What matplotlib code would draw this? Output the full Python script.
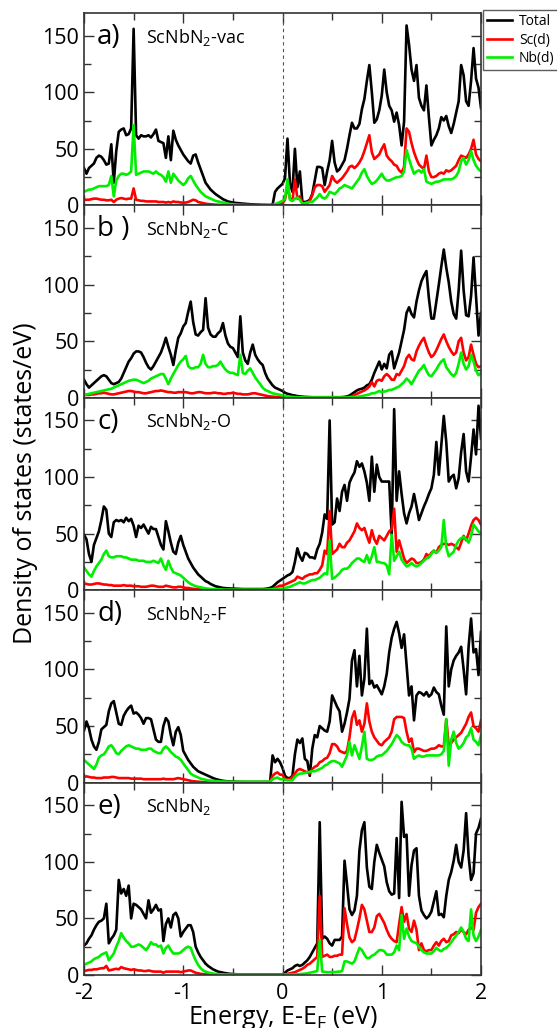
import numpy as np
import matplotlib.pyplot as plt
from matplotlib.ticker import MultipleLocator

plt.rcParams['font.family'] = ['Open Sans', 'DejaVu Sans']
plt.rcParams['mathtext.fontset'] = 'custom'
plt.rcParams['mathtext.rm'] = 'Open Sans'
plt.rcParams['axes.unicode_minus'] = False

# energy grid (eV), 0.025 eV steps from -2 to 2
energy = np.linspace(-2, 2, 161)

# a) ScNbN2-vac
a_tot = [33, 28, 33, 35, 37, 42, 44, 43, 40, 36,
         37, 54, 20, 48, 65, 67, 68, 62, 63, 68,
         156, 62, 59, 62, 61, 61, 62, 60, 63, 67,
         57, 56, 55, 42, 61, 40, 66, 58, 53, 49,
         45, 42, 39, 37, 44, 45, 38, 32, 26, 20,
         17, 14, 12, 10, 8.5, 7, 5.5, 4.5, 3.5, 3,
         2.5, 2.2, 2, 1.8, 1.6, 1.4, 1.2, 1, 0.9, 0.8,
         0.7, 0.6, 0.5, 0.5, 0.4, 0.4, 0.5, 12, 15, 17,
         19, 24, 59, 20, 12, 50, 16, 30, 3, 3,
         3.5, 5, 10, 22, 34, 34, 33, 18, 30, 40,
         57, 38, 30, 32, 36, 40, 50, 62, 73, 68,
         68, 72, 85, 94, 110, 124, 100, 73, 76, 84,
         97, 120, 100, 88, 84, 74, 82, 71, 53, 74,
         159, 142, 120, 110, 124, 95, 88, 84, 106, 78,
         53, 58, 62, 68, 78, 75, 79, 70, 64, 72,
         82, 92, 124, 115, 92, 88, 110, 139, 112, 104,
         86]
a_sc = [5, 5, 5, 5.5, 6, 6, 5.5, 5, 5, 4.5,
        4.5, 5, 3, 5, 6, 6.5, 6, 5.5, 6, 6,
        15, 5, 4.5, 4, 4, 3.5, 3.5, 3.5, 3.5, 3.5,
        3, 3, 3, 2.5, 3, 2.5, 3.5, 3, 3, 2.5,
        2.5, 2.5, 3, 4, 5, 4.5, 3, 2.5, 2, 1.5,
        1.2, 1, 0.8, 0.6, 0.5, 0.4, 0.3, 0.3, 0.2, 0.2,
        0.2, 0.2, 0.1, 0.1, 0.1, 0.1, 0.1, 0.1, 0.1, 0.1,
        0.1, 0.1, 0.1, 0.1, 0.1, 0.1, 0.2, 0.5, 1, 1.5,
        2, 5, 18, 6, 4, 23, 6, 8, 2, 1.5,
        2, 4, 9, 16, 18, 18, 17, 12, 15, 18,
        26, 22, 20, 22, 24, 27, 30, 34, 35, 33,
        35, 38, 42, 48, 55, 62, 47, 41, 43, 45,
        50, 54, 44, 41, 39, 36, 35, 31, 29, 34,
        68, 65, 55, 47, 41, 36, 34, 32, 44, 30,
        25, 25, 26, 28, 29, 28, 31, 30, 31, 33,
        35, 40, 44, 43, 42, 45, 50, 58, 45, 41,
        39]
a_nb = [12, 13, 14, 14, 15, 16, 17, 17, 17, 17,
        18, 26, 8, 22, 26, 28, 28, 27, 28, 30,
        71, 27, 28, 29, 30, 30, 30, 29, 28, 30,
        28, 27, 25, 21, 30, 20, 28, 25, 22, 20,
        18, 20, 24, 26, 22, 18, 15, 12, 10, 8,
        7, 6, 5, 4, 3.5, 3, 2.5, 2, 1.5, 1.2,
        1, 0.8, 0.7, 0.6, 0.5, 0.4, 0.4, 0.3, 0.3, 0.3,
        0.3, 0.3, 0.3, 0.3, 0.3, 0.3, 0.4, 1, 2, 3,
        4, 6, 23, 5, 4, 6, 7, 5, 1.5, 2,
        2.5, 3, 3, 5, 7, 10, 7, 6, 8, 12,
        11, 10, 12, 15, 16, 18, 17, 16, 15, 18,
        21, 24, 29, 32, 26, 22, 19, 20, 22, 25,
        28, 24, 22, 22, 23, 24, 25, 25, 26, 30,
        49, 41, 34, 28, 30, 31, 29, 32, 21, 20,
        19, 20, 21, 21, 22, 23, 23, 23, 23, 24,
        26, 30, 39, 42, 36, 40, 48, 40, 35, 32,
        30]

# b) ScNbN2-C
b_tot = [16, 12, 9, 11, 13, 15, 17, 19, 20, 19,
         16, 13, 12, 13, 14, 17, 22, 27, 32, 35,
         39, 41, 41, 40, 36, 31, 27, 25, 28, 32,
         36, 40, 46, 53, 45, 38, 29, 42, 53, 57,
         63, 66, 76, 85, 67, 56, 55, 58, 60, 88,
         62, 56, 54, 54, 57, 59, 66, 55, 48, 45,
         44, 40, 36, 72, 40, 33, 30, 40, 47, 38,
         34, 31, 29, 22, 17, 14, 11, 9, 8, 7,
         6, 4.5, 3.5, 3, 2.3, 2, 1.5, 1.2, 1, 0.8,
         0.7, 0.6, 0.5, 0.5, 0.5, 0.5, 0.5, 0.5, 0.5, 0.5,
         0.5, 0.5, 0.5, 0.5, 0.6, 0.8, 1.2, 2, 3.5, 5,
         6.5, 7.5, 8, 9, 11, 12, 16, 22, 27, 32,
         25, 30, 26, 38, 41, 26, 33, 40, 50, 60,
         75, 80, 74, 71, 85, 95, 103, 108, 112, 88,
         70, 70, 85, 100, 116, 131, 115, 102, 85, 74,
         70, 95, 130, 95, 73, 72, 90, 124, 90, 55,
         75]
b_sc = [3, 2.5, 2.5, 3, 3, 3.5, 4, 4, 4.5, 4,
        3.5, 3, 3, 3.5, 4, 4.5, 5, 5.5, 6, 6,
        5.5, 5, 5, 4.5, 4, 4, 4.5, 5, 5.5, 6,
        6, 6.5, 6, 5.5, 5, 5, 4.5, 4.5, 5, 5,
        5, 5, 4.5, 4, 4, 4.5, 5, 5, 4.5, 4,
        4, 4, 4.5, 4.5, 4, 4, 3.5, 3.5, 4, 4,
        4.5, 4, 3.5, 3.5, 3, 3, 3, 3.5, 4, 4,
        3.5, 3, 2.5, 2, 1.5, 1.2, 1, 0.8, 0.6, 0.5,
        0.4, 0.3, 0.3, 0.2, 0.2, 0.2, 0.2, 0.2, 0.2, 0.2,
        0.2, 0.2, 0.2, 0.2, 0.2, 0.2, 0.2, 0.2, 0.2, 0.2,
        0.2, 0.2, 0.2, 0.2, 0.2, 0.3, 0.4, 0.8, 1.5, 2.5,
        3.5, 4.5, 5.5, 6.5, 8, 10, 14, 10, 15, 16,
        15, 19, 21, 19, 16, 16, 21, 20, 24, 28,
        35, 38, 34, 33, 41, 46, 50, 53, 46, 40,
        36, 38, 42, 47, 52, 56, 50, 45, 41, 38,
        40, 50, 53, 40, 33, 36, 47, 38, 30, 27,
        28]
b_nb = [3, 3, 3.5, 4, 4.5, 5, 5.5, 6, 6.5, 7,
        7.5, 8, 9, 10, 11, 12, 13, 14, 15, 15.5,
        16, 16, 15, 14, 13, 14, 15, 17, 18, 19,
        20, 21, 21, 17, 12, 17, 21, 25, 29, 32,
        34, 37, 28, 26, 26, 27, 27, 30, 38, 30,
        27, 27, 28, 28, 29, 32, 28, 25, 23, 22,
        22, 21, 20, 38, 22, 21, 24, 26, 22, 18,
        15, 12, 9, 7, 6, 5, 4, 3.5, 3, 2.5,
        2, 1.6, 1.3, 1, 0.8, 0.6, 0.5, 0.4, 0.4, 0.3,
        0.3, 0.3, 0.3, 0.3, 0.3, 0.3, 0.3, 0.3, 0.3, 0.3,
        0.3, 0.3, 0.3, 0.3, 0.3, 0.3, 0.3, 0.4, 0.5, 0.7,
        1, 1.2, 1.5, 2, 2.5, 3, 4, 4, 5, 6,
        5, 5.5, 6, 7, 7, 8, 9, 10, 12, 14,
        17, 15, 12, 16, 20, 24, 26, 29, 24, 20,
        19, 22, 25, 29, 32, 34, 27, 24, 21, 19,
        22, 30, 40, 30, 25, 28, 38, 32, 24, 20,
        22]

# c) ScNbN2-O
c_tot = [49, 45, 32, 25, 40, 46, 52, 62, 74, 71,
         50, 47, 60, 62, 61, 62, 60, 64, 61, 63,
         57, 47, 57, 55, 58, 54, 50, 56, 54, 54,
         47, 40, 36, 61, 52, 42, 34, 32, 42, 48,
         40, 34, 28, 24, 20, 17, 14, 12, 10, 8,
         7, 5.5, 4.5, 3.5, 3, 2.5, 2, 1.8, 1.6, 1.5,
         1.4, 1.3, 1.2, 1.1, 1, 1, 1, 1, 1, 1,
         1, 1, 1, 1.2, 1.5, 2, 3, 5, 7, 8.5,
         10, 11.5, 13, 14, 16, 25, 37, 30, 26, 33,
         32, 29, 29, 28, 36, 41, 51, 67, 63, 150,
         58, 60, 81, 70, 87, 93, 79, 95, 100, 104,
         114, 109, 112, 105, 95, 79, 118, 87, 111, 100,
         96, 96, 96, 96, 49, 160, 79, 105, 85, 68,
         59, 68, 74, 85, 74, 62, 68, 74, 79, 85,
         90, 102, 131, 102, 128, 154, 131, 96, 100, 102,
         90, 99, 122, 138, 105, 96, 118, 142, 120, 163,
         134]
c_sc = [6, 5.5, 5, 5, 5.5, 6, 6, 5.5, 5, 5,
        4.5, 4.5, 4, 4, 4, 4, 4.5, 4, 4, 4,
        3.5, 3.5, 3.5, 3, 3, 3, 3.5, 4, 4, 3.5,
        3, 3, 3, 4, 3.5, 3, 2.5, 2.5, 3, 3,
        2.5, 2, 2, 1.5, 1.2, 1, 0.8, 0.6, 0.5, 0.4,
        0.3, 0.3, 0.2, 0.2, 0.2, 0.2, 0.2, 0.2, 0.2, 0.2,
        0.2, 0.2, 0.2, 0.2, 0.2, 0.2, 0.2, 0.2, 0.2, 0.2,
        0.2, 0.2, 0.2, 0.3, 0.5, 0.8, 1.2, 2, 3, 4,
        4, 5, 6, 7, 8, 9, 12, 11, 10, 12,
        13, 14, 14, 15, 15, 18, 22, 35, 32, 70,
        32, 34, 36, 41, 38, 38, 42, 44, 48, 52,
        59, 55, 53, 55, 48, 42, 53, 45, 41, 48,
        46, 44, 48, 52, 54, 72, 34, 44, 36, 28,
        24, 26, 28, 27, 24, 24, 25, 27, 32, 30,
        33, 35, 33, 38, 40, 41, 41, 40, 41, 40,
        38, 36, 42, 48, 44, 50, 57, 62, 64, 62,
        58]
c_nb = [20, 17, 14, 12, 17, 21, 24, 27, 32, 35,
        30, 29, 29, 30, 30, 30, 29, 29, 28, 27,
        27, 27, 26, 26, 26, 25, 25, 25, 26, 25,
        24, 28, 22, 18, 26, 20, 16, 15, 14, 13,
        11, 9, 7, 5.5, 4.5, 3.5, 3, 2.5, 2, 1.6,
        1.3, 1.1, 1, 0.9, 0.8, 0.7, 0.6, 0.5, 0.5, 0.5,
        0.5, 0.5, 0.5, 0.5, 0.5, 0.5, 0.5, 0.5, 0.5, 0.5,
        0.5, 0.5, 0.5, 0.5, 0.6, 0.7, 0.8, 1, 1.2, 1.5,
        1.5, 2, 2.5, 3, 4, 5, 6, 7, 6, 6,
        7, 8, 9, 9, 10, 11, 13, 15, 14, 44,
        10, 11, 13, 15, 18, 19, 19, 21, 24, 26,
        28, 28, 26, 25, 31, 24, 30, 38, 25, 25,
        24, 24, 22, 14, 49, 26, 30, 34, 27, 24,
        21, 22, 24, 22, 21, 22, 24, 26, 28, 29,
        32, 35, 33, 35, 38, 62, 38, 30, 32, 34,
        40, 44, 46, 47, 45, 42, 48, 58, 55, 52,
        50]

# d) ScNbN2-F
d_tot = [46, 54, 48, 38, 32, 29, 36, 47, 49, 51,
         63, 70, 72, 62, 52, 51, 59, 63, 66, 68,
         61, 62, 60, 57, 52, 57, 57, 56, 47, 38,
         36, 36, 50, 57, 54, 42, 33, 45, 49, 42,
         28, 24, 20, 17, 14, 12, 10, 9, 8, 7,
         6, 5, 4, 3.2, 2.6, 2, 1.6, 1.3, 1.1, 1,
         0.9, 0.8, 0.7, 0.6, 0.6, 0.5, 0.5, 0.5, 0.5, 0.5,
         0.5, 0.5, 0.5, 0.5, 0.5, 0.6, 24, 18, 21, 18,
         13, 6, 4, 4, 6, 25, 38, 35, 39, 21,
         19, 6, 30, 42, 40, 50, 48, 46, 45, 54,
         77, 72, 67, 63, 45, 52, 62, 74, 108, 117,
         85, 112, 77, 92, 136, 87, 90, 84, 86, 82,
         78, 85, 96, 115, 128, 136, 142, 132, 119, 131,
         104, 77, 85, 55, 77, 80, 79, 77, 80, 76,
         78, 84, 80, 78, 68, 60, 138, 85, 100, 108,
         112, 115, 120, 100, 78, 120, 145, 115, 118, 95,
         133]
d_sc = [5, 5.5, 5, 4.5, 4.5, 4, 4, 4, 4.5, 4.5,
        4.5, 5, 5, 4.5, 4, 4, 4, 4, 4, 3.5,
        3.5, 3.5, 3.5, 3.5, 3, 3, 3, 3, 3, 3,
        3, 3, 3.5, 3, 3, 3, 3, 3.5, 4, 3.5,
        3, 2.5, 2, 1.6, 1.2, 1, 0.8, 0.6, 0.5, 0.4,
        0.4, 0.3, 0.3, 0.3, 0.3, 0.3, 0.3, 0.3, 0.3, 0.3,
        0.3, 0.3, 0.3, 0.3, 0.3, 0.3, 0.3, 0.3, 0.3, 0.3,
        0.3, 0.3, 0.3, 0.3, 0.3, 0.5, 6, 8, 9, 7,
        7, 3, 3, 3, 5, 8, 11, 12, 11, 10,
        9, 8, 12, 14, 15, 18, 19, 21, 22, 26,
        34, 34, 32, 28, 27, 26, 28, 40, 57, 63,
        51, 55, 45, 52, 70, 54, 45, 40, 37, 34,
        33, 36, 38, 40, 45, 56, 58, 58, 58, 57,
        45, 36, 39, 27, 30, 30, 29, 28, 28, 29,
        30, 30, 31, 33, 32, 32, 56, 33, 35, 38,
        40, 42, 44, 48, 52, 58, 62, 50, 48, 45,
        55]
d_nb = [20, 18, 16, 14, 12, 16, 22, 24, 25, 28,
        32, 33, 30, 26, 25, 28, 30, 32, 33, 32,
        31, 30, 30, 29, 29, 29, 30, 30, 28, 27,
        26, 26, 30, 32, 30, 27, 25, 23, 22, 20,
        17, 14, 11, 8, 6.5, 5.5, 4.5, 3.5, 3, 2.5,
        2, 1.8, 1.6, 1.4, 1.2, 1, 1, 0.9, 0.8, 0.8,
        0.8, 0.8, 0.8, 0.8, 0.8, 0.8, 0.8, 0.8, 0.8, 0.8,
        0.8, 0.8, 0.8, 0.8, 0.8, 1, 3, 4, 4.5, 3,
        3, 2.5, 2, 2, 2, 5, 7, 8, 8, 8.5,
        9, 9.5, 10, 10, 11, 12, 13, 15, 16, 18,
        19, 19, 18, 17, 14, 19, 24, 36, 24, 33,
        27, 21, 32, 45, 21, 20, 20, 21, 23, 24,
        24, 26, 28, 31, 34, 38, 42, 40, 36, 34,
        33, 33, 30, 21, 23, 24, 23, 23, 24, 24,
        24, 24, 24, 24, 25, 28, 56, 15, 38, 45,
        35, 30, 32, 35, 40, 42, 48, 38, 36, 33,
        42]

# e) ScNbN2
e_tot = [26, 28, 32, 35, 40, 44, 47, 48, 50, 63,
         28, 32, 35, 40, 84, 72, 76, 70, 79, 50,
         63, 62, 60, 58, 54, 50, 66, 55, 58, 62,
         57, 58, 30, 45, 50, 42, 53, 55, 50, 34,
         38, 41, 44, 44, 38, 25, 20, 16, 13, 10,
         8, 6.5, 5, 4, 3, 2.5, 2, 1.6, 1.3, 1,
         0.8, 0.7, 0.6, 0.5, 0.5, 0.5, 0.5, 0.5, 0.5, 0.5,
         0.5, 0.5, 0.5, 0.5, 0.5, 0.5, 0.5, 0.5, 0.5, 0.5,
         0.5, 2, 4, 5, 6, 8, 9, 8, 9, 11,
         13, 16, 20, 24, 28, 135, 32, 34, 32, 28,
         26, 31, 31, 31, 34, 101, 80, 58, 53, 57,
         70, 110, 128, 135, 95, 78, 76, 100, 115, 108,
         102, 96, 82, 74, 71, 72, 121, 68, 153, 122,
         124, 70, 97, 110, 112, 70, 57, 53, 50, 52,
         56, 65, 74, 53, 54, 51, 70, 84, 91, 101,
         115, 100, 95, 110, 143, 105, 84, 90, 125, 130,
         138]
e_sc = [3.5, 4, 4.5, 4.5, 5, 5, 5.5, 6, 6, 8,
        4, 4.5, 5, 5.5, 5, 7, 6, 5.5, 5, 4.5,
        5, 4.5, 4, 4, 3.5, 3.5, 4, 3.5, 3, 3,
        3, 3, 2, 3, 3, 3, 3, 3, 3, 2.5,
        3, 3.5, 4, 4, 3, 2, 1.5, 1, 0.8, 0.6,
        0.5, 0.4, 0.3, 0.3, 0.3, 0.2, 0.2, 0.2, 0.2, 0.2,
        0.2, 0.2, 0.2, 0.2, 0.2, 0.2, 0.2, 0.2, 0.2, 0.2,
        0.2, 0.2, 0.2, 0.2, 0.2, 0.2, 0.2, 0.2, 0.2, 0.2,
        0.3, 0.6, 1, 1.5, 2, 2.5, 3.5, 4.5, 5.5, 7,
        9, 10, 12, 14, 16, 70, 16, 17, 18, 16,
        16, 17, 17, 18, 18, 59, 45, 33, 29, 31,
        40, 50, 62, 58, 48, 38, 38, 42, 52, 54,
        50, 46, 40, 35, 32, 30, 29, 45, 60, 47,
        54, 41, 38, 48, 40, 22, 28, 22, 21, 22,
        22, 26, 29, 26, 30, 32, 29, 30, 35, 36,
        38, 37, 40, 38, 36, 40, 42, 40, 55, 60,
        63]
e_nb = [9, 10, 11, 12, 14, 15, 16, 18, 19, 20,
        13, 16, 19, 25, 30, 37, 33, 30, 28, 25,
        25, 26, 27, 26, 24, 22, 25, 29, 27, 27,
        25, 26, 19, 24, 26, 22, 19, 19, 19, 20,
        22, 24, 25, 24, 18, 13, 9, 6, 4, 3,
        2.2, 1.7, 1.3, 1, 0.8, 0.6, 0.5, 0.4, 0.4, 0.3,
        0.3, 0.3, 0.3, 0.3, 0.3, 0.3, 0.3, 0.3, 0.3, 0.3,
        0.3, 0.3, 0.3, 0.3, 0.3, 0.3, 0.3, 0.3, 0.3, 0.3,
        0.3, 0.3, 0.3, 0.4, 0.4, 0.5, 0.6, 0.8, 1, 1.2,
        1.5, 2, 2.5, 3, 3.5, 31, 3, 2.8, 2.5, 2.5,
        2.5, 2.6, 2.8, 3, 3.5, 12, 12, 11, 10, 12,
        18, 24, 22, 18, 15, 15, 17, 18, 20, 22,
        22, 21, 18, 18, 18, 20, 26, 22, 53, 32,
        41, 34, 30, 29, 28, 25, 22, 20, 19, 19,
        19, 21, 24, 22, 21, 23, 24, 26, 29, 32,
        35, 38, 42, 38, 32, 30, 58, 35, 30, 34,
        40]

panel_tags = ['a)', 'b )', 'c)', 'd)', 'e)']
panel_names = ['ScNbN$_2$-vac', 'ScNbN$_2$-C', 'ScNbN$_2$-O', 'ScNbN$_2$-F', 'ScNbN$_2$']
totals = [a_tot, b_tot, c_tot, d_tot, e_tot]
sc_d = [a_sc, b_sc, c_sc, d_sc, e_sc]
nb_d = [a_nb, b_nb, c_nb, d_nb, e_nb]

fig = plt.figure(figsize=(5.57, 10.28), dpi=100)

# panel layout (stacked, no gap)
left, right = 84 / 557, 481 / 557
top, bottom = 1 - 13 / 1028, 1 - 975 / 1028
h = (top - bottom) / 5

for i in range(5):
    ax = fig.add_axes([left, top - (i + 1) * h, right - left, h])
    l1, = ax.plot(energy, totals[i], color='black', lw=1.9, label='Total')
    l2, = ax.plot(energy, sc_d[i], color='#ff0000', lw=1.9, label='Sc(d)')
    l3, = ax.plot(energy, nb_d[i], color='#00ee00', lw=1.9, label='Nb(d)')
    ax.axvline(0, color='#555555', lw=0.8, ls=(0, (3, 3)))

    ax.set_xlim(-2, 2)
    ax.set_ylim(0, 170)
    ax.xaxis.set_major_locator(MultipleLocator(1))
    ax.xaxis.set_minor_locator(MultipleLocator(0.5))
    ax.yaxis.set_major_locator(MultipleLocator(50))
    ax.yaxis.set_minor_locator(MultipleLocator(25))
    ax.tick_params(which='both', direction='in', top=True, right=True,
                   labelsize=15.5, color='#333333')
    ax.tick_params(which='major', length=7, width=1)
    ax.tick_params(which='minor', length=5, width=1)
    ax.tick_params(axis='x', pad=6)
    for s in ax.spines.values():
        s.set_color('#333333')
        s.set_linewidth(1.2)

    ax.text(0.033, 0.875, panel_tags[i], transform=ax.transAxes,
            fontsize=20, va='center')
    ax.text(0.155, 0.875, panel_names[i], transform=ax.transAxes,
            fontsize=13, va='center')

    if i < 4:
        ax.tick_params(labelbottom=False)
    else:
        ax.set_xlabel('Energy, E-E$_\\mathrm{F}$ (eV)', fontsize=18, labelpad=0)

fig.text(0.046, 0.53, 'Density of states (states/eV)', rotation=90,
         fontsize=18, ha='center', va='center')

fig.legend([l1, l2, l3], ['Total', 'Sc(d)', 'Nb(d)'], loc='upper left',
           bbox_to_anchor=(483 / 557, 1 - 10 / 1028), frameon=True,
           fancybox=False, edgecolor='#333333', fontsize=10,
           borderaxespad=0, handlelength=1.8, labelspacing=0.25,
           borderpad=0.3, handletextpad=0.5)

fig.savefig('out.png', dpi=100)
